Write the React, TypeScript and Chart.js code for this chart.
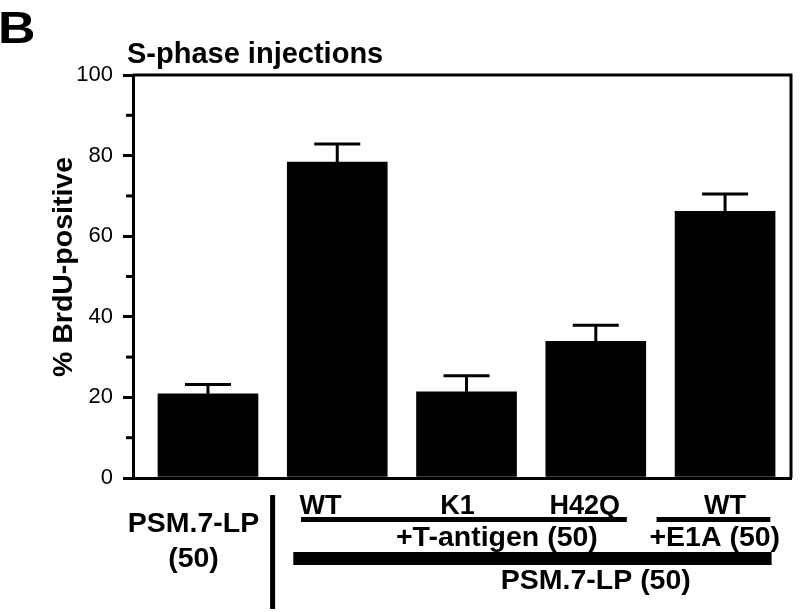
import React, { useEffect, useRef } from "react";
import { Chart, registerables } from "chart.js";

Chart.register(...registerables);

// ---- data ----
const categories = ["PSM.7-LP (50)", "WT +T-antigen", "K1 +T-antigen", "H42Q +T-antigen", "WT +E1A"];
const values = [20.9, 78.4, 21.4, 33.9, 66.2];
const errors = [2.3, 4.5, 4.0, 4.0, 4.3];
const yTicks = [0, 20, 40, 60, 80, 100];
const yMinorTicks = [10, 30, 50, 70, 90];

const panelLetter = "B";
const panelTitle = "S-phase injections";
const yTitle = "% BrdU-positive";
const mutantLabels = ["WT", "K1", "H42Q", "WT"];
const groupLabels = ["+T-antigen (50)", "+E1A (50)"];
const baseLabel = "PSM.7-LP (50)";
const controlLabel = ["PSM.7-LP", "(50)"];

// ---- layout (category units on the x scale) ----
const mutantPos = [0.87, 1.93, 2.915, 4.0];
const groupPos = [2.235, 3.92];
const groupLines = [[0.72, 3.24], [3.47, 4.35]];
const baseLine = [0.66, 4.36];
const basePos = 3.0;
const controlPos = -0.112;
const dividerPos = 0.5;

const FONT = "'Liberation Sans', Arial, Helvetica, sans-serif";

const decor = {
  id: "decor",
  afterDatasetsDraw(chart: any) {
    const { ctx, scales } = chart;
    const x = scales.x;
    const y = scales.y;
    ctx.save();
    ctx.fillStyle = "#000";
    ctx.strokeStyle = "#000";
    ctx.lineCap = "butt";
    ctx.lineWidth = 3;
    values.forEach((v, i) => {
      const px = x.getPixelForValue(i);
      const top = y.getPixelForValue(v);
      const e = y.getPixelForValue(v + errors[i]);
      ctx.beginPath();
      ctx.moveTo(px, top);
      ctx.lineTo(px, e);
      ctx.stroke();
      ctx.beginPath();
      ctx.moveTo(px - 23, e);
      ctx.lineTo(px + 23, e);
      ctx.stroke();
    });
    ctx.restore();
  },
  afterDraw(chart: any) {
    const { ctx, chartArea, scales } = chart;
    const x = scales.x;
    const y = scales.y;
    ctx.save();
    ctx.fillStyle = "#000";
    ctx.strokeStyle = "#000";

    // frame: top and right
    ctx.lineWidth = 3;
    ctx.beginPath();
    ctx.moveTo(chartArea.left, chartArea.top);
    ctx.lineTo(chartArea.right + 1.5, chartArea.top);
    ctx.moveTo(chartArea.right, chartArea.top);
    ctx.lineTo(chartArea.right, chartArea.bottom);
    ctx.stroke();

    // minor ticks
    yMinorTicks.forEach((t) => {
      const py = y.getPixelForValue(t);
      ctx.beginPath();
      ctx.moveTo(chartArea.left - 7, py);
      ctx.lineTo(chartArea.left, py);
      ctx.stroke();
    });

    // panel letter and title
    ctx.textAlign = "left";
    ctx.textBaseline = "alphabetic";
    ctx.save();
    ctx.translate(-2, 43);
    ctx.scale(1.18, 1);
    ctx.font = `bold 44px ${FONT}`;
    ctx.fillText(panelLetter, 0, 0);
    ctx.restore();
    ctx.font = `bold 29px ${FONT}`;
    ctx.fillText(panelTitle, 127, 63);

    // y title
    ctx.save();
    ctx.translate(72, 267);
    ctx.rotate(-Math.PI / 2);
    ctx.textAlign = "center";
    ctx.font = `bold 28.5px ${FONT}`;
    ctx.fillText(yTitle, 0, 0);
    ctx.restore();

    // bottom annotation
    const b = chartArea.bottom;
    ctx.textAlign = "center";
    ctx.font = `bold 27px ${FONT}`;
    mutantLabels.forEach((t, i) => {
      ctx.fillText(t, x.getPixelForValue(mutantPos[i]), b + 36);
    });
    groupLines.forEach(([a, c]) => {
      const xa = x.getPixelForValue(a);
      const xc = x.getPixelForValue(c);
      ctx.fillRect(xa, b + 39, xc - xa, 5);
    });
    ctx.font = `bold 28.5px ${FONT}`;
    groupLabels.forEach((t, i) => {
      ctx.fillText(t, x.getPixelForValue(groupPos[i]), b + 68);
    });
    const x0 = x.getPixelForValue(baseLine[0]);
    const x1 = x.getPixelForValue(baseLine[1]);
    ctx.fillRect(x0, b + 74, x1 - x0, 13);
    ctx.fillText(baseLabel, x.getPixelForValue(basePos), b + 111);

    ctx.fillText(controlLabel[0], x.getPixelForValue(controlPos), b + 54);
    ctx.fillText(controlLabel[1], x.getPixelForValue(controlPos), b + 89);

    const dx = x.getPixelForValue(dividerPos);
    ctx.fillRect(dx - 2.5, b + 17, 5, 114);

    ctx.restore();
  },
};

export default function App() {
  const ref = useRef<HTMLCanvasElement | null>(null);
  useEffect(() => {
    if (!ref.current) return;
    const chart = new Chart(ref.current, {
      type: "bar",
      data: {
        labels: categories,
        datasets: [
          {
            label: "% BrdU-positive",
            data: values.map((v, i) => ({ x: i, y: v })),
            backgroundColor: "#000",
            borderWidth: 0,
            barThickness: 100,
          } as any,
        ],
      },
      options: {
        animation: false,
        responsive: true,
        maintainAspectRatio: false,
        layout: { padding: { top: 75, right: 9, left: 0, bottom: 0 } },
        plugins: { legend: { display: false }, tooltip: { enabled: false }, title: { display: false } },
        scales: {
          x: {
            type: "linear",
            offset: false,
            min: -0.58,
            max: 4.51,
            ticks: { display: false },
            grid: { display: false, offset: false },
            border: { display: true, width: 3, color: "#000" },
            afterFit: (s: any) => {
              s.height = 134;
            },
          },
          y: {
            type: "linear",
            min: 0,
            max: 100,
            afterBuildTicks: (s: any) => {
              s.ticks = yTicks.map((v) => ({ value: v }));
            },
            ticks: {
              color: "#000",
              padding: 10,
              font: { family: FONT, size: 22 },
            },
            grid: {
              display: true,
              drawOnChartArea: false,
              drawTicks: true,
              tickLength: 10,
              lineWidth: 3,
              color: "#000",
            },
            border: { display: true, width: 3, color: "#000" },
            afterFit: (s: any) => {
              s.width = 133;
            },
          },
        },
      },
      plugins: [decor],
    } as any);
    return () => chart.destroy();
  }, []);
  return (
    <div style={{ position: "absolute", left: 0, top: 0, width: 800, height: 612, background: "#fff" }}>
      <canvas ref={ref} />
    </div>
  );
}
